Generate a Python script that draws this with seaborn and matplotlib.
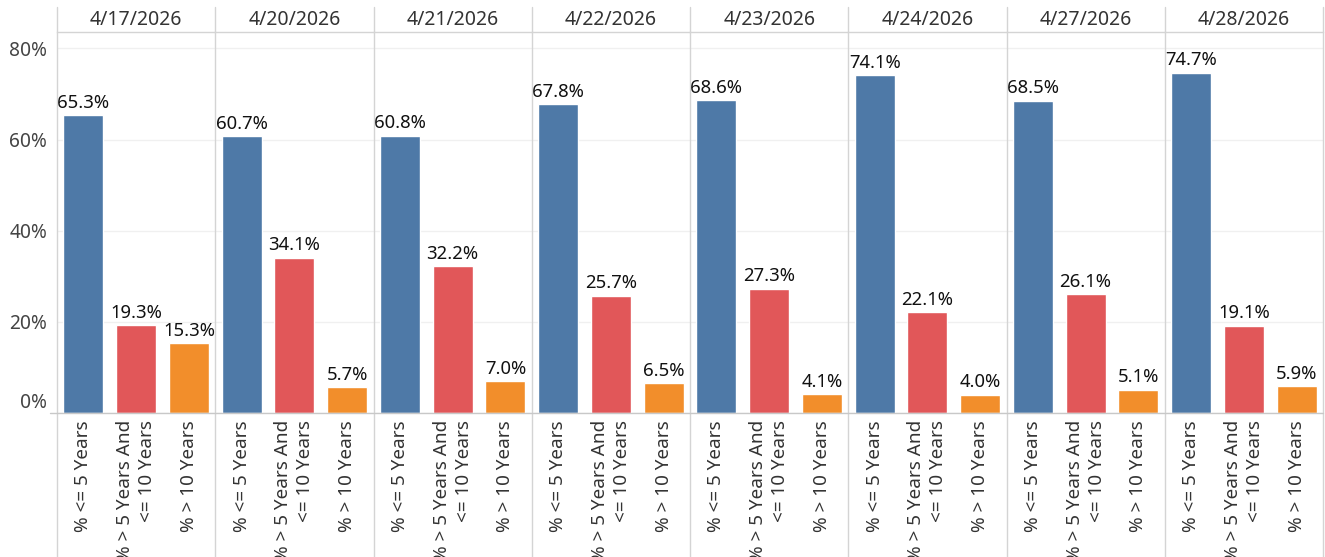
import matplotlib
matplotlib.use('Agg')
import matplotlib.pyplot as plt
from matplotlib.lines import Line2D
import seaborn as sns
import pandas as pd

dates = ['4/17/2026', '4/20/2026', '4/21/2026', '4/22/2026',
         '4/23/2026', '4/24/2026', '4/27/2026', '4/28/2026']
categories = ['% <= 5 Years', '% > 5 Years And\n<= 10 Years', '% > 10 Years']
le_5 = [65.3, 60.7, 60.8, 67.8, 68.6, 74.1, 68.5, 74.7]
mid_5_10 = [19.3, 34.1, 32.2, 25.7, 27.3, 22.1, 26.1, 19.1]
gt_10 = [15.3, 5.7, 7.0, 6.5, 4.1, 4.0, 5.1, 5.9]
colors = ['#4E79A7', '#E15759', '#F28E2B']
y_ticks = [0, 20, 40, 60, 80]

rows = []
for i, d in enumerate(dates):
    for c, v in zip(categories, [le_5[i], mid_5_10[i], gt_10[i]]):
        rows.append({'date': d, 'cat': c, 'val': v})
df = pd.DataFrame(rows)

sns.set_style('white')
plt.rcParams['font.family'] = ['Noto Sans', 'DejaVu Sans']

W, H = 1325, 557
fig, axes = plt.subplots(1, 8, sharey=True, figsize=(W / 100, H / 100), dpi=100)
left_px, right_px, top_px, zero_px = 57, 1323, 32, 413
fig.subplots_adjust(left=left_px / W, right=right_px / W,
                    bottom=1 - zero_px / H, top=1 - top_px / H, wspace=0)

line_c = '#d4d4d4'
for i, (ax, d) in enumerate(zip(axes, dates)):
    sub = df[df['date'] == d]
    sns.barplot(data=sub, x='cat', y='val', hue='cat', order=categories,
                hue_order=categories, palette=colors, width=0.76,
                legend=False, ax=ax, saturation=1)
    for cont in ax.containers:
        ax.bar_label(cont, fmt='%.1f%%', padding=2.5, fontsize=13.3, color='#111111')
    ax.set_ylim(0, 83.6)
    ax.set_yticks(y_ticks)
    ax.yaxis.grid(True, color='#f0f0f0', lw=1)
    ax.set_axisbelow(True)
    ax.set_xlabel('')
    ax.set_ylabel('')
    ax.set_xticks(range(3))
    ax.set_xticklabels(categories, rotation=90, va='top', ha='center',
                       multialignment='right', linespacing=1.3,
                       fontsize=13.6, color='#333333')
    ax.tick_params(axis='x', length=0, pad=5)
    ax.tick_params(axis='y', length=0, pad=7, labelsize=13.8, labelcolor='#444444')
    for s in ['left', 'right', 'bottom']:
        ax.spines[s].set_visible(False)
    ax.spines['top'].set_color(line_c)
    ax.spines['top'].set_linewidth(1)
    # header
    x0, x1 = ax.get_position().x0, ax.get_position().x1
    fig.text((x0 + x1) / 2, 1 - 20 / H, d, ha='center', va='center',
             fontsize=14, color='#333333')

axes[0].set_yticklabels([f'{t}%' for t in y_ticks])
# Tableau keeps the bottom label inside the pane
axes[0].get_yticklabels()[0].set_va('bottom')

# panel separators and zero line
for ax in axes:
    x0 = ax.get_position().x0
    fig.add_artist(Line2D([x0, x0], [0, 1 - 7 / H], color=line_c, lw=1))
x_end = axes[-1].get_position().x1
fig.add_artist(Line2D([x_end, x_end], [0, 1 - 7 / H], color=line_c, lw=1))
fig.add_artist(Line2D([50 / W, x_end], [1 - zero_px / H, 1 - zero_px / H],
                      color='#c8c8c8', lw=1))

fig.savefig('out.png', dpi=100)
